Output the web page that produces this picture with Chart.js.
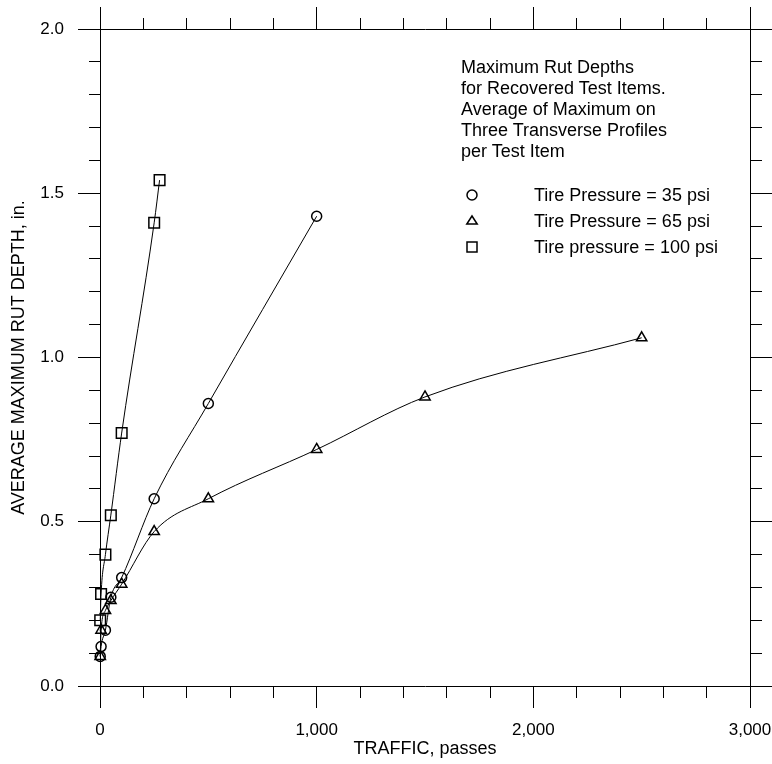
<!DOCTYPE html>
<html>
<head>
<meta charset="utf-8">
<script src="https://cdn.jsdelivr.net/npm/chart.js@4/dist/chart.umd.min.js"></script>
<style>
  html, body { margin: 0; padding: 0; background: #fff; }
  #wrap { position: relative; width: 772px; height: 764px; overflow: hidden; }
  #chart { position: absolute; left: 0; top: 0; }
  .note { position: absolute; left: 461px; top: 57px; font: 18px/21px "Liberation Sans", Arial, sans-serif; color: #000; white-space: nowrap; }
  .leg { position: absolute; left: 462px; height: 26px; font: 18px/26px "Liberation Sans", Arial, sans-serif; color: #000; white-space: nowrap; }
  .leg svg { position: absolute; left: 0; top: 3px; }
  .leg span { position: absolute; left: 72px; top: 0; }
</style>
</head>
<body>
<div id="wrap">
  <canvas id="chart" width="772" height="764"></canvas>
  <div class="note">Maximum Rut Depths<br>for Recovered Test Items.<br>Average of Maximum on<br>Three Transverse Profiles<br>per Test Item</div>
  <div class="leg" style="top:182px"><svg width="20" height="20"><circle cx="10" cy="10" r="5" fill="none" stroke="#000" stroke-width="1.5"/></svg><span>Tire Pressure = 35 psi</span></div>
  <div class="leg" style="top:208px"><svg width="20" height="20"><polygon points="10,5 15.2,13 4.8,13" fill="none" stroke="#000" stroke-width="1.5"/></svg><span>Tire Pressure = 65 psi</span></div>
  <div class="leg" style="top:234px"><svg width="20" height="20"><rect x="5" y="5" width="10" height="10" fill="none" stroke="#000" stroke-width="1.5"/></svg><span>Tire pressure = 100 psi</span></div>
</div>
<script>
// ---- data ----
const traffic35 = [1, 5, 25, 50, 100, 250, 500, 1000];
const rut35 = [0.09, 0.12, 0.17, 0.27, 0.33, 0.57, 0.86, 1.43];

const traffic65 = [1, 5, 25, 50, 100, 250, 500, 1000, 1500, 2500];
const rut65 = [0.09, 0.17, 0.23, 0.26, 0.31, 0.47, 0.57, 0.72, 0.88, 1.06];

const traffic100 = [1, 5, 25, 50, 100, 250, 275];
const rut100 = [0.20, 0.28, 0.40, 0.52, 0.77, 1.41, 1.54];

const seriesNames = ['Tire Pressure = 35 psi', 'Tire Pressure = 65 psi', 'Tire pressure = 100 psi'];

const xMajorValues = [0, 1000, 2000, 3000];
const xTickLabels = ['0', '1,000', '2,000', '3,000'];
const yMajorValues = [0, 0.5, 1.0, 1.5, 2.0];
const yTickLabels = ['0.0', '0.5', '1.0', '1.5', '2.0'];

const xTitle = 'TRAFFIC, passes';
const yTitle = 'AVERAGE MAXIMUM RUT DEPTH, in.';

// ---- helpers ----
const FONT = '"Liberation Sans", Arial, sans-serif';
Chart.defaults.font.family = FONT;
Chart.defaults.color = '#000';

const MAJOR = 22, MINOR = 11, GAP = 200;
const near = (a, b) => Math.abs(a - b) < 1e-6;
const isMajorX = v => xMajorValues.some(m => near(m, v));
const isMajorY = v => yMajorValues.some(m => near(m, v));

function gridFor(isMajor, inwardStart) {
  return {
    drawOnChartArea: false,
    drawTicks: true,
    tickLength: MAJOR,
    tickColor: '#000',
    tickWidth: 1,
    tickBorderDash: c => (c.tick && isMajor(c.tick.value)) ? [] : [MINOR, GAP],
    tickBorderDashOffset: c => (c.tick && isMajor(c.tick.value)) ? 0 : (inwardStart ? (MINOR + GAP - (MAJOR - MINOR)) : 0)
  };
}
const border = { display: true, color: '#000', width: 1 };
const noPad = s => { s.paddingLeft = 0; s.paddingRight = 0; s.paddingTop = 0; s.paddingBottom = 0; };

function pts(xs, ys) { return xs.map((x, i) => ({ x: x, y: ys[i] })); }

const common = {
  borderColor: '#000',
  borderWidth: 1,
  fill: false,
  cubicInterpolationMode: 'monotone',
  pointBorderColor: '#000',
  pointBackgroundColor: 'rgba(0,0,0,0)',
  pointBorderWidth: 1.5,
  clip: false,
  xAxisID: 'x',
  yAxisID: 'y'
};

new Chart(document.getElementById('chart'), {
  type: 'line',
  data: {
    datasets: [
      Object.assign({}, common, { label: seriesNames[0], data: pts(traffic35, rut35), pointStyle: 'circle', pointRadius: 5 }),
      Object.assign({}, common, { label: seriesNames[1], data: pts(traffic65, rut65), pointStyle: 'triangle', pointRadius: 6 }),
      Object.assign({}, common, { label: seriesNames[2], data: pts(traffic100, rut100), pointStyle: 'rect', pointRadius: 7.5 })
    ]
  },
  options: {
    responsive: false,
    animation: false,
    events: [],
    layout: { padding: 0 },
    plugins: { legend: { display: false }, tooltip: { enabled: false } },
    scales: {
      x: {
        type: 'linear', position: 'bottom', min: 0, max: 3000,
        border: border,
        grid: gridFor(isMajorX, false),
        ticks: {
          stepSize: 200, autoSkip: false, maxRotation: 0, minRotation: 0, padding: 12,
          font: { size: 17 },
          callback: v => { const i = xMajorValues.findIndex(m => near(m, v)); return i >= 0 ? xTickLabels[i] : ''; }
        },
        title: { display: true, text: xTitle, font: { size: 18, lineHeight: 1.2 }, padding: { top: 0, bottom: 4 } },
        afterFit: s => { s.height = 78; noPad(s); }
      },
      xTop: {
        type: 'linear', position: 'top', min: 0, max: 3000,
        border: border,
        grid: gridFor(isMajorX, true),
        ticks: { stepSize: 200, autoSkip: false, display: false },
        afterFit: s => { s.height = 29; noPad(s); }
      },
      y: {
        type: 'linear', position: 'left', min: 0, max: 2,
        border: border,
        grid: gridFor(isMajorY, true),
        ticks: {
          stepSize: 0.1, autoSkip: false, padding: 14,
          font: { size: 17 },
          callback: v => { const i = yMajorValues.findIndex(m => near(m, v)); return i >= 0 ? yTickLabels[i] : ''; }
        },
        title: { display: true, text: yTitle, font: { size: 18, lineHeight: 1.2 }, padding: { top: 8, bottom: 0 } },
        afterFit: s => { s.width = 100; noPad(s); }
      },
      yRight: {
        type: 'linear', position: 'right', min: 0, max: 2,
        border: border,
        grid: gridFor(isMajorY, false),
        ticks: { stepSize: 0.1, autoSkip: false, display: false },
        afterFit: s => { s.width = 22; noPad(s); }
      }
    }
  }
});
</script>
</body>
</html>
